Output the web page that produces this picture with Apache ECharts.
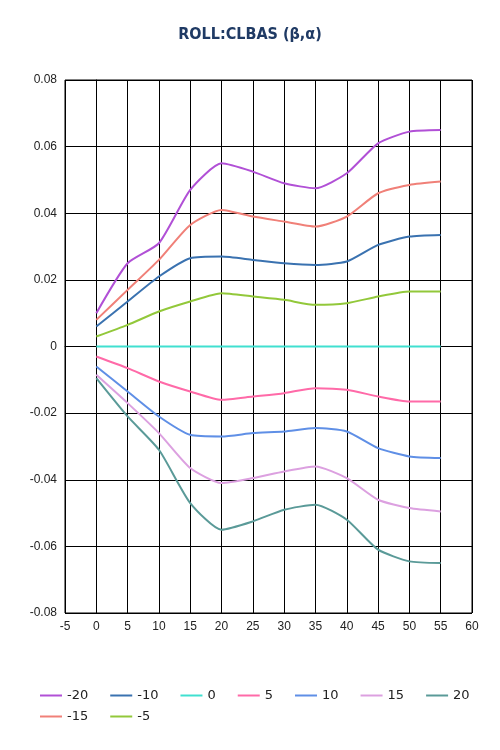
<!DOCTYPE html>
<html><head><meta charset="utf-8">
<script src="https://cdn.jsdelivr.net/npm/echarts@6/dist/echarts.min.js"></script>
<style>body{margin:0}#main{width:500px;height:750px}</style></head>
<body><div id="main"></div>
<script>
var alpha = [0, 5, 10, 15, 20, 25, 30, 35, 40, 45, 50, 55];
var names = ['-20', '-15', '-10', '-5', '0', '5', '10', '15', '20'];
var colors = ['#b150d6', '#f08078', '#3a72b0', '#92c83a', '#40e0d0', '#ff6aa8', '#5f8fe6', '#dca0e0', '#5a9a98'];
var v_m20 = [0.010, 0.025, 0.031, 0.047, 0.055, 0.0525, 0.049, 0.0475, 0.052, 0.061, 0.0645, 0.065];
var v_m15 = [0.008, 0.017, 0.026, 0.0365, 0.041, 0.039, 0.0375, 0.036, 0.039, 0.046, 0.0485, 0.0495];
var v_m10 = [0.006, 0.0135, 0.021, 0.0265, 0.027, 0.026, 0.025, 0.0245, 0.0255, 0.0305, 0.033, 0.0335];
var v_m5 = [0.003, 0.0065, 0.0105, 0.0135, 0.016, 0.015, 0.014, 0.0125, 0.013, 0.015, 0.0165, 0.0165];
var v_0 = [0, 0, 0, 0, 0, 0, 0, 0, 0, 0, 0, 0];
var v_5 = [-0.003, -0.0065, -0.0105, -0.0135, -0.016, -0.015, -0.014, -0.0125, -0.013, -0.015, -0.0165, -0.0165];
var v_10 = [-0.006, -0.0135, -0.021, -0.0265, -0.027, -0.026, -0.0255, -0.0245, -0.0255, -0.0305, -0.033, -0.0335];
var v_15 = [-0.0085, -0.017, -0.026, -0.0365, -0.041, -0.0395, -0.0375, -0.036, -0.0395, -0.046, -0.0485, -0.0495];
var v_20 = [-0.0095, -0.021, -0.031, -0.047, -0.055, -0.0525, -0.049, -0.0475, -0.052, -0.061, -0.0645, -0.065];
var values = [v_m20, v_m15, v_m10, v_m5, v_0, v_5, v_10, v_15, v_20];

var series = [];
for (var i = 0; i < names.length; i++) {
    var d = [];
    for (var j = 0; j < alpha.length; j++) d.push([alpha[j], values[i][j]]);
    series.push({
        name: names[i], type: 'line', smooth: 0.2, showSymbol: false,
        lineStyle: { width: 2, color: colors[i] }, itemStyle: { color: colors[i] }, data: d
    });
}
var myChart = echarts.init(document.getElementById('main'));
var legendCommon = {
    left: 35, itemGap: 22, itemWidth: 22, itemHeight: 2, icon: 'rect',
    textStyle: { color: '#222', fontSize: 13, fontFamily: 'DejaVu Sans' }
};
option = {
    animation: false,
    backgroundColor: '#fff',
    title: {
        text: 'ROLL:CLBAS (β,α)', left: 'center', top: 22,
        textStyle: { color: '#1f3a64', fontSize: 16, fontWeight: 'bold', fontFamily: 'DejaVu Sans Condensed' }
    },
    legend: [
        Object.assign({ top: 684, data: ['-20', '-10', '0', '5', '10', '15', '20'] }, legendCommon),
        Object.assign({ top: 705, data: ['-15', '-5'] }, legendCommon)
    ],
    grid: { left: 65, right: 28, top: 80, bottom: 137, show: true, borderColor: '#000', borderWidth: 1 },
    xAxis: {
        type: 'value', min: -5, max: 60, interval: 5,
        axisLine: { lineStyle: { color: '#000' } },
        axisTick: { show: true, lineStyle: { color: '#000' } },
        axisLabel: { color: '#222', fontSize: 12 },
        splitLine: { show: true, lineStyle: { color: '#000', width: 1, type: 'solid' } }
    },
    yAxis: {
        type: 'value', min: -0.08, max: 0.08, interval: 0.02,
        axisLine: { show: true, lineStyle: { color: '#000' } },
        axisTick: { show: true, lineStyle: { color: '#000' } },
        axisLabel: { color: '#222', fontSize: 12, formatter: function (v) { return Math.abs(v) < 1e-9 ? '0' : v.toFixed(2); } },
        splitLine: { show: true, lineStyle: { color: '#000', width: 1, type: 'solid' } }
    },
    series: series
};
myChart.setOption(option);
</script></body></html>
